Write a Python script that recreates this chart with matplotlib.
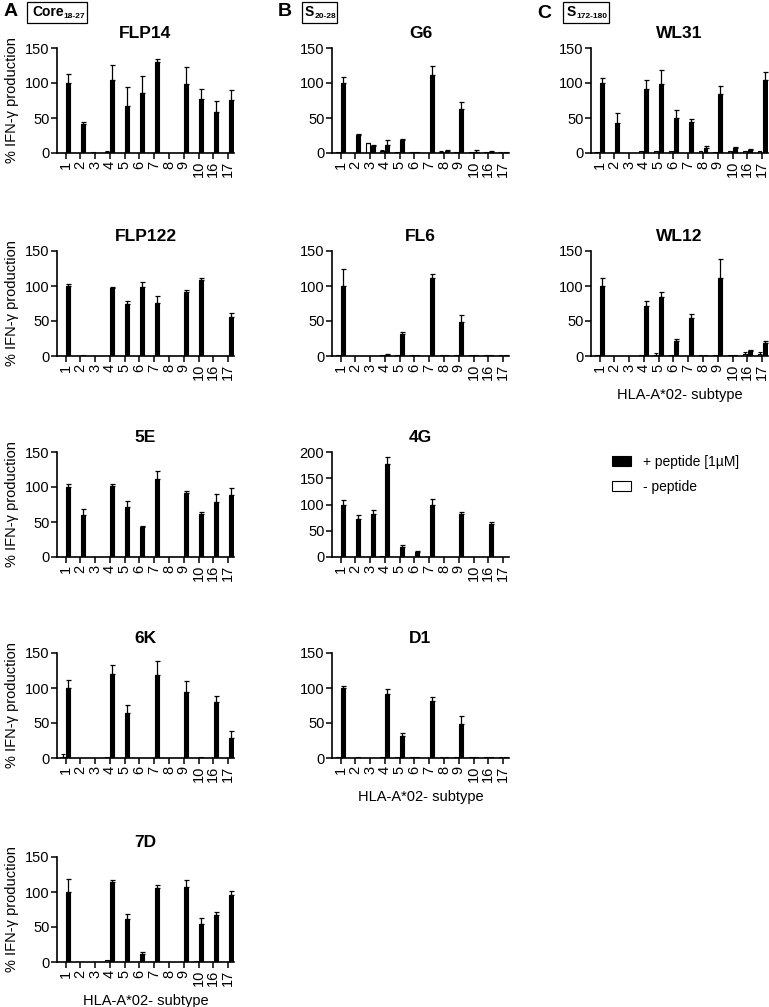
import numpy as np
import matplotlib
matplotlib.use('Agg')
import matplotlib.pyplot as plt
from matplotlib.patches import Patch, Rectangle
from matplotlib.text import Annotation

plt.rcParams['font.family'] = ['Liberation Sans', 'DejaVu Sans']

subtypes = ['1', '2', '3', '4', '5', '6', '7', '8', '9', '10', '16', '17']

# ---- Column A: Core18-27 ----
flp14_plus = [100, 42, 0, 104, 67, 86, 130, 0, 99, 77, 58, 76]
flp14_plus_err = [13, 3, 0, 21, 28, 24, 4, 0, 24, 15, 17, 14]
flp14_minus = [0, 0, 1, 2, 0, 0, 0, 0, 0, 0, 0, 0]
flp14_minus_err = [0, 0, 0, 1, 0, 0, 0, 0, 0, 0, 0, 0]

flp122_plus = [100, 1, 0, 97, 74, 98, 76, 0, 91, 108, 0, 56]
flp122_plus_err = [3, 0, 0, 2, 4, 8, 10, 0, 3, 3, 0, 5]
flp122_minus = [0, 0, 0, 0, 0, 0, 0, 0, 0, 0, 0, 0]
flp122_minus_err = [0, 0, 0, 0, 0, 0, 0, 0, 0, 0, 0, 0]

e5_plus = [100, 60, 0, 102, 72, 43, 112, 0, 91, 62, 79, 88]
e5_plus_err = [4, 9, 0, 3, 8, 2, 11, 0, 4, 2, 11, 10]
e5_minus = [0, 0, 0, 0, 0, 0, 0, 0, 0, 0, 0, 0]
e5_minus_err = [0, 0, 0, 0, 0, 0, 0, 0, 0, 0, 0, 0]

k6_plus = [100, 0, 0, 120, 64, 0, 119, 0, 94, 2, 80, 29]
k6_plus_err = [11, 0, 0, 13, 12, 0, 19, 0, 16, 0, 9, 9]
k6_minus = [2, 0, 0, 2, 0, 0, 0, 0, 0, 0, 0, 0]
k6_minus_err = [4, 0, 0, 0, 0, 0, 0, 0, 0, 0, 0, 0]

d7_plus = [100, 0, 0, 115, 62, 12, 106, 0, 107, 55, 67, 96]
d7_plus_err = [18, 0, 0, 2, 6, 3, 4, 0, 10, 8, 5, 6]
d7_minus = [0, 0, 0, 3, 0, 0, 0, 0, 0, 1, 0, 0]
d7_minus_err = [0, 0, 0, 0, 0, 0, 0, 0, 0, 0, 0, 0]

# ---- Column B: S20-28 ----
g6_plus = [100, 26, 10, 11, 18, 2, 112, 3, 63, 2, 2, 1.5]
g6_plus_err = [9, 1, 2, 7, 2, 0, 12, 2, 10, 2, 1, 0]
g6_minus = [1.5, 0, 14, 3, 1, 2, 0, 2, 2, 1.5, 1.5, 1.5]
g6_minus_err = [0, 0, 1, 1, 0, 0, 0, 1, 0, 0, 0, 0]

fl6_plus = [100, 0, 0, 2, 32, 1.5, 112, 1.5, 48, 1.5, 1.5, 1.5]
fl6_plus_err = [25, 0, 0, 1, 2, 0, 5, 0, 10, 0, 0, 0]
fl6_minus = [1.5, 0, 0, 1.5, 1.5, 1.5, 0, 1.5, 1.5, 1.5, 1.5, 1.5]
fl6_minus_err = [0, 0, 0, 0, 0, 0, 0, 0, 0, 0, 0, 0]

g4_plus = [100, 73, 82, 177, 20, 9, 100, 0, 81, 0, 62, 0]
g4_plus_err = [8, 7, 7, 14, 3, 2, 10, 0, 4, 0, 5, 0]
g4_minus = [0, 0, 0, 2, 0, 0, 0, 0, 0, 0, 0, 0]
g4_minus_err = [0, 0, 0, 0, 0, 0, 0, 0, 0, 0, 0, 0]

d1_plus = [100, 1.5, 0, 92, 31, 2, 82, 1.5, 48, 1.5, 1.5, 1.5]
d1_plus_err = [3, 0, 0, 7, 5, 0, 5, 0, 12, 0, 0, 0]
d1_minus = [1.5, 0, 0, 1.5, 1.5, 1.5, 0, 1.5, 1.5, 1.5, 1.5, 1.5]
d1_minus_err = [0, 0, 0, 0, 0, 0, 0, 0, 0, 0, 0, 0]

# ---- Column C: S172-180 ----
wl31_plus = [100, 43, 0, 92, 99, 50, 45, 7, 84, 7, 5, 105]
wl31_plus_err = [7, 14, 0, 13, 20, 11, 4, 3, 12, 1, 1, 11]
wl31_minus = [2, 0, 0, 3, 3, 3, 0, 3, 2, 3, 3, 3]
wl31_minus_err = [0, 0, 0, 0, 0, 0, 0, 0, 0, 0, 0, 0]

wl12_plus = [100, 0, 0, 72, 85, 22, 55, 2, 112, 1.5, 7, 19]
wl12_plus_err = [11, 0, 0, 7, 7, 3, 5, 0, 27, 0, 1, 2]
wl12_minus = [1.5, 0, 0, 1.5, 2, 2, 0, 2, 1.5, 1.5, 3, 3]
wl12_minus_err = [0, 0, 0, 0, 2, 0, 0, 0, 0, 0, 3, 3]

panels = [
    # col, row, title, ymax, plus, plus_err, minus, minus_err
    (0, 0, 'FLP14', 150, flp14_plus, flp14_plus_err, flp14_minus, flp14_minus_err),
    (0, 1, 'FLP122', 150, flp122_plus, flp122_plus_err, flp122_minus, flp122_minus_err),
    (0, 2, '5E', 150, e5_plus, e5_plus_err, e5_minus, e5_minus_err),
    (0, 3, '6K', 150, k6_plus, k6_plus_err, k6_minus, k6_minus_err),
    (0, 4, '7D', 150, d7_plus, d7_plus_err, d7_minus, d7_minus_err),
    (1, 0, 'G6', 150, g6_plus, g6_plus_err, g6_minus, g6_minus_err),
    (1, 1, 'FL6', 150, fl6_plus, fl6_plus_err, fl6_minus, fl6_minus_err),
    (1, 2, '4G', 200, g4_plus, g4_plus_err, g4_minus, g4_minus_err),
    (1, 3, 'D1', 150, d1_plus, d1_plus_err, d1_minus, d1_minus_err),
    (2, 0, 'WL31', 150, wl31_plus, wl31_plus_err, wl31_minus, wl31_minus_err),
    (2, 1, 'WL12', 150, wl12_plus, wl12_plus_err, wl12_minus, wl12_minus_err),
]
xlabel_panels = {'7D', 'D1', 'WL12'}

W, H = 769, 1007
fig = plt.figure(figsize=(W / 100, H / 100), dpi=100)

col_left = [57, 332, 591]
ax_w = 177
row_zero = [153, 356, 557, 758, 962]
ax_h = 105

bw = 0.26
off = 0.17
x = np.arange(len(subtypes))

for col, row, title, ymax, plus, perr, minus, merr in panels:
    left = col_left[col] / W
    bottom = 1 - row_zero[row] / H
    ax = fig.add_axes([left, bottom, ax_w / W, ax_h / H])
    plus = np.array(plus, float); perr = np.array(perr, float)
    minus = np.array(minus, float); merr = np.array(merr, float)
    ax.bar(x - off, minus, width=bw, color='white', edgecolor='black', linewidth=0.8, zorder=2)
    ax.bar(x + off, plus, width=bw, color='black', edgecolor='black', linewidth=0.8, zorder=2)
    m = perr > 0
    ax.errorbar((x + off)[m], plus[m], yerr=[np.zeros(m.sum()), perr[m]], fmt='none',
                ecolor='black', elinewidth=0.9, capsize=1.8, capthick=0.9, zorder=3)
    m = merr > 0
    ax.errorbar((x - off)[m], minus[m], yerr=[np.zeros(m.sum()), merr[m]], fmt='none',
                ecolor='black', elinewidth=0.8, capsize=1.5, capthick=0.8, zorder=3)
    ax.set_xlim(-0.58, len(subtypes) - 0.6)
    ax.set_ylim(0, ymax)
    ax.set_yticks(np.arange(0, ymax + 1, 50))
    ax.set_xticks(x)
    ax.set_xticklabels(subtypes, rotation=90, fontsize=10.5)
    ax.tick_params(axis='y', labelsize=10.5, length=4, width=1.1, pad=1.5)
    ax.tick_params(axis='x', length=4, width=1.1, pad=1.5)
    for s in ['top', 'right']:
        ax.spines[s].set_visible(False)
    for s in ['left', 'bottom']:
        ax.spines[s].set_linewidth(1.2)
    ax.set_title(title, fontsize=12.5, fontweight='bold', pad=7)
    if col == 0:
        ax.set_ylabel('% IFN-\u03b3 production', fontsize=10.5, labelpad=4)
    if title in xlabel_panels:
        ax.set_xlabel('HLA-A*02- subtype', fontsize=10.5, labelpad=6)

# Panel letters and peptide boxes
letters = [('A', 11, 12), ('B', 285, 12), ('C', 544, 13)]
for lt, px, py in letters:
    fig.text(px / W, 1 - py / H, lt, fontsize=14, fontweight='bold', ha='center', va='center')

boxes = [('Core', '18-27', 27, 87, 32),
         ('S', '20-28', 302, 337, 305),
         ('S', '172-180', 563, 609, 567)]
for main, sub, x0, x1, tx in boxes:
    fig.add_artist(Rectangle((x0 / W, 1 - 23 / H), (x1 - x0) / W, 21 / H,
                             transform=fig.transFigure, fill=False, edgecolor='black', linewidth=0.9))
    t = fig.text(tx / W, 1 - 12 / H, main, fontsize=10, fontweight='bold', ha='left', va='center')
    ann = Annotation(sub, xy=(1.0, 0.2), xycoords=t, fontsize=6, fontweight='bold',
                     ha='left', va='center')
    fig.add_artist(ann)

# Legend
handles = [Patch(facecolor='black', edgecolor='black', linewidth=0.8),
           Patch(facecolor='white', edgecolor='black', linewidth=0.8)]
fig.legend(handles, ['+ peptide [1\u00b5M]', '- peptide'], loc='upper left',
           bbox_to_anchor=(612 / W, 1 - 455 / H), frameon=False, fontsize=10,
           borderpad=0, borderaxespad=0, handlelength=1.4, handleheight=0.72,
           handletextpad=0.8, labelspacing=0.8)

fig.savefig('out.png', dpi=100)
